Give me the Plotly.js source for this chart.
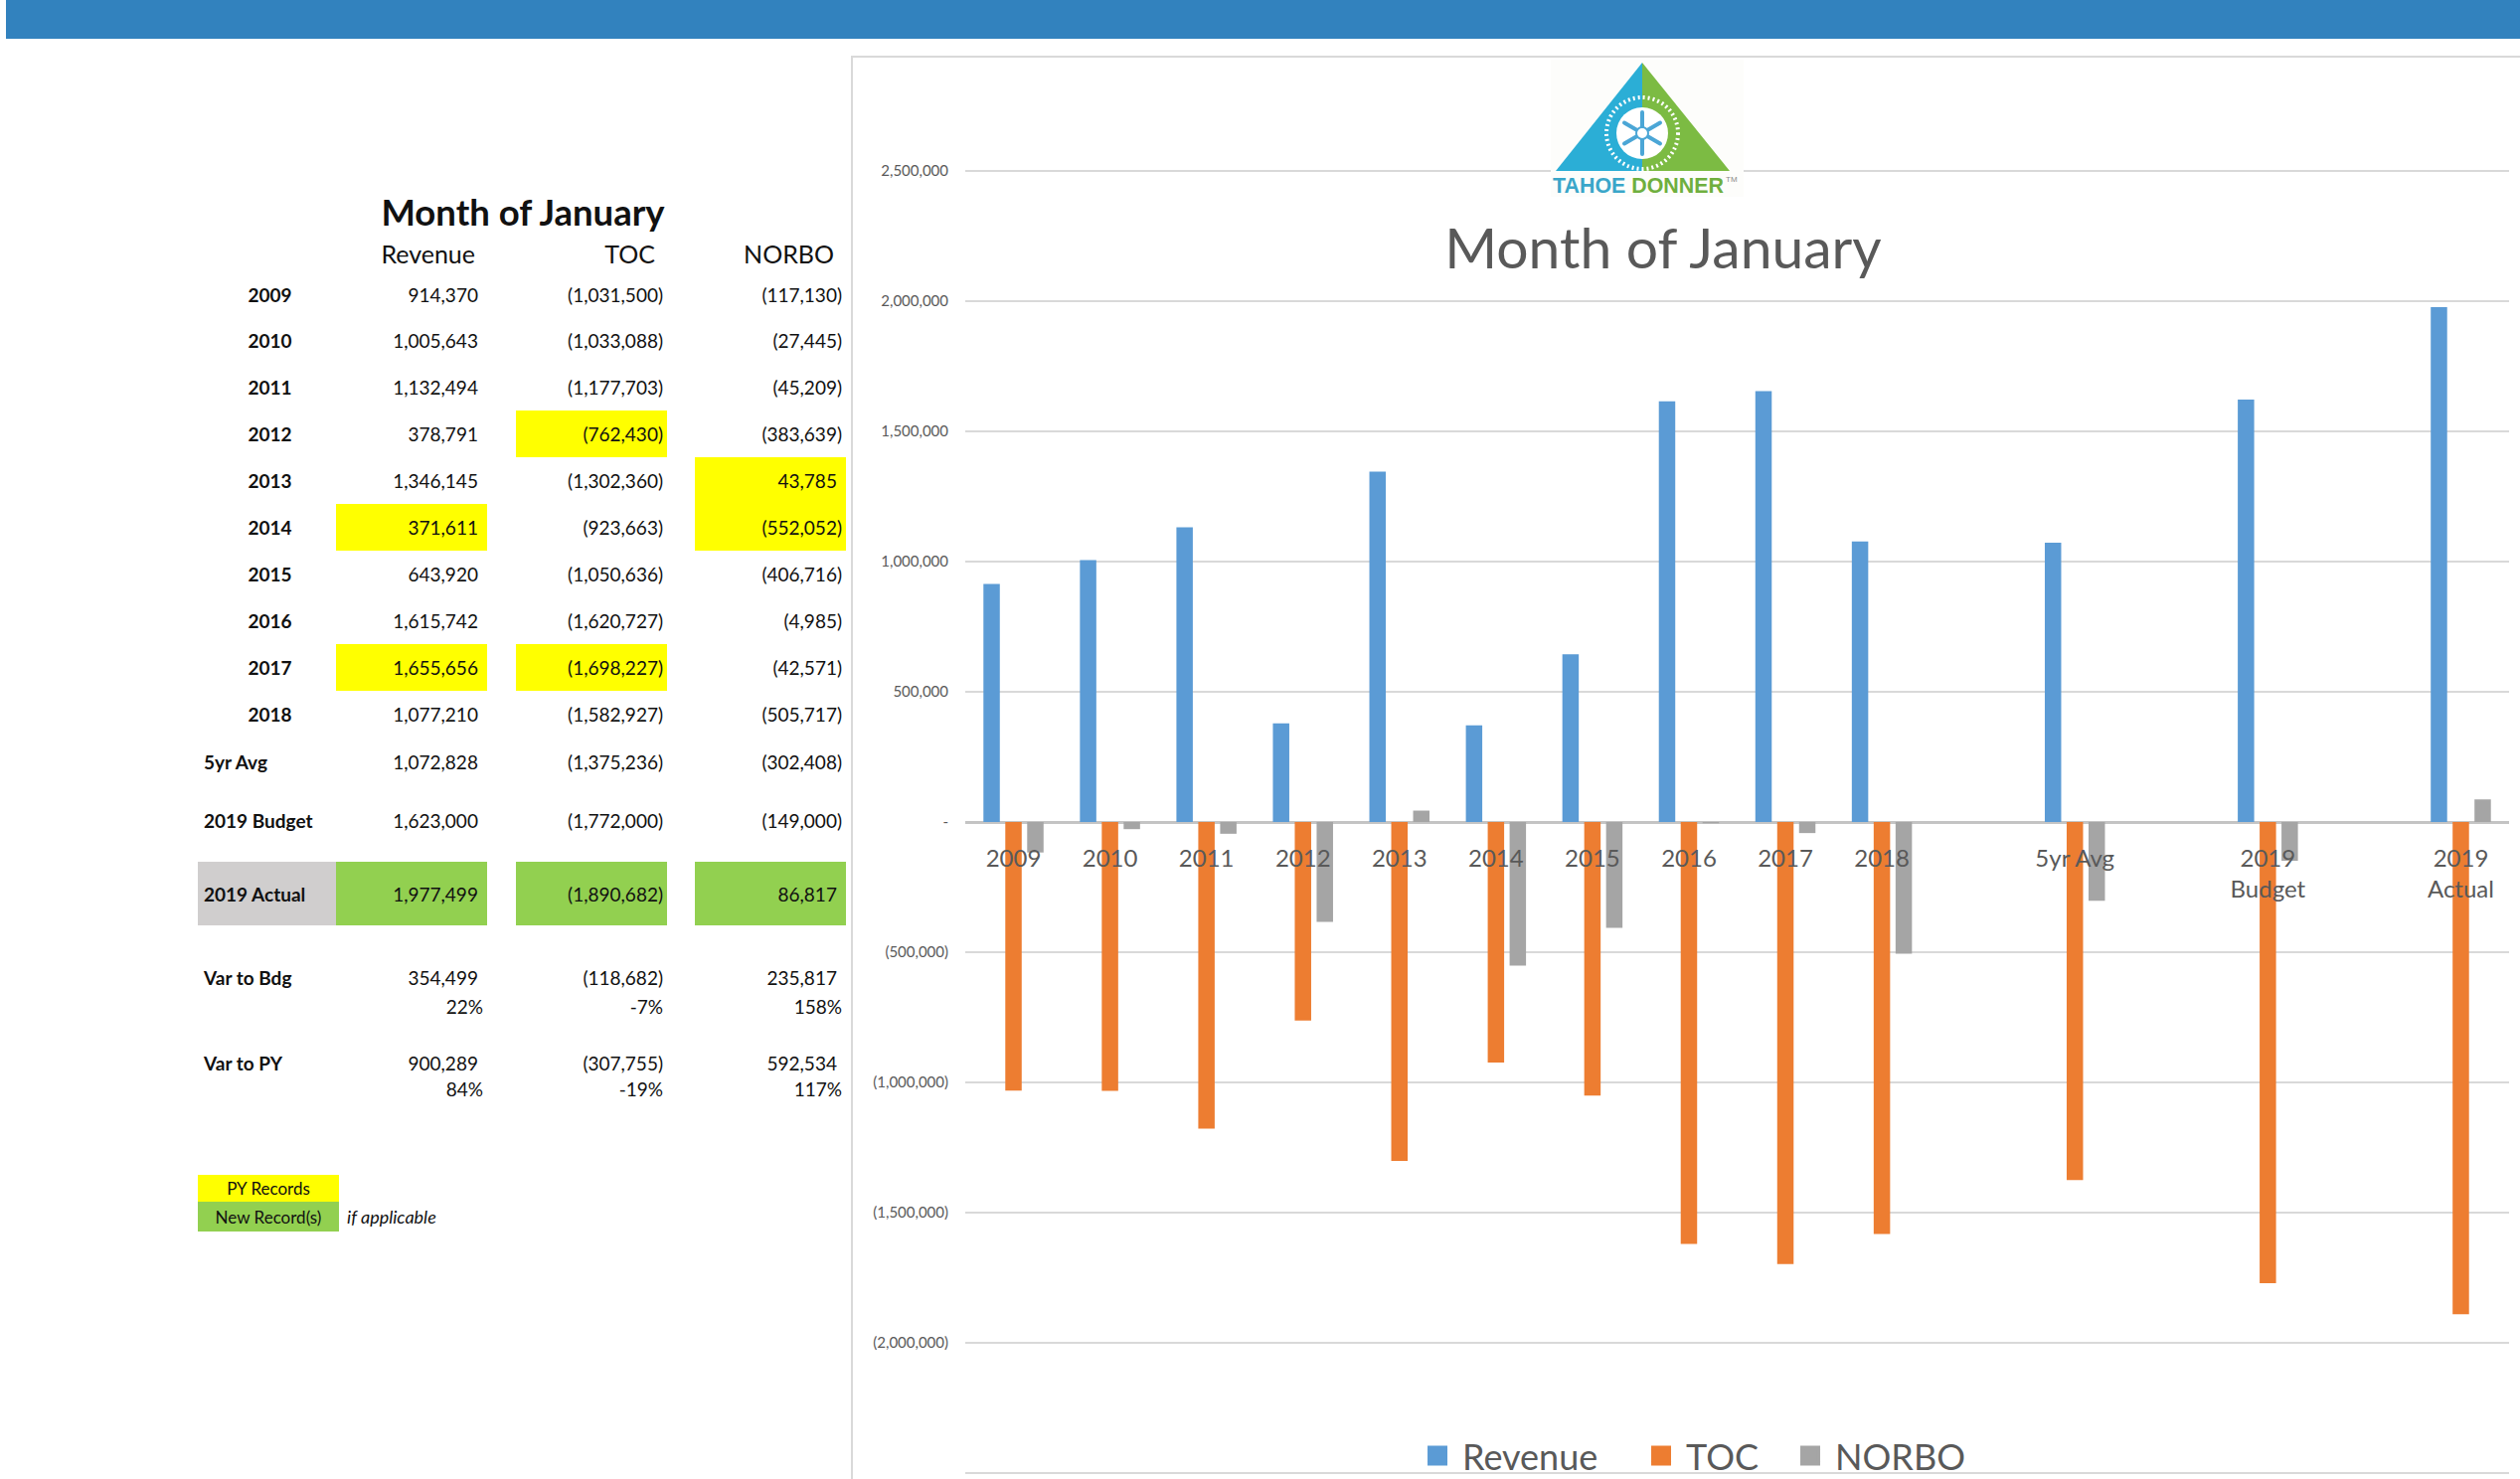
<!DOCTYPE html>
<html>
<head>
<meta charset="utf-8">
<script src="https://cdn.plot.ly/plotly-3.0.1.min.js"></script>
<style>
html,body{margin:0;padding:0;background:#fff;width:2535px;height:1488px;overflow:hidden;font-family:Lato,"Open Sans",sans-serif;}
#chart{position:absolute;left:0;top:0;width:2535px;height:1488px;}
#banner{position:absolute;left:6px;top:0;width:2529px;height:39px;background:#3282BE;}
#panel{position:absolute;left:856px;top:56px;width:1679px;height:1432px;border-left:2px solid #D9D9D9;border-top:2px solid #D9D9D9;box-sizing:border-box;pointer-events:none;}
#table{position:absolute;left:0;top:0;width:856px;height:1488px;}
.c{position:absolute;display:flex;align-items:center;box-sizing:border-box;white-space:nowrap;color:#111;font-family:Lato,"Open Sans",sans-serif;}
#logo{position:absolute;left:0;top:0;pointer-events:none;}
</style>
</head>
<body>
<div id="chart"></div>
<div id="banner"></div>
<div id="panel"></div>
<div id="table"></div>
<svg id="logo" width="2535" height="240" viewBox="0 0 2535 240">
  <rect x="1560" y="60" width="194" height="138" fill="#FDFDFB"/>
  <polygon points="1652,63 1565,172 1652,172" fill="#2BAED6"/>
  <polygon points="1652,63 1652,172 1740,172" fill="#7CBB43"/>
  <circle cx="1652" cy="134" r="36" fill="none" stroke="#ffffff" stroke-width="4" stroke-dasharray="2 3"/>
  <circle cx="1652" cy="134" r="26" fill="#ffffff"/>
  <g stroke="#4BA6D6" stroke-width="4" stroke-linecap="round">
    <line x1="1652" y1="113" x2="1652" y2="155"/>
    <line x1="1634" y1="123.5" x2="1670" y2="144.5"/>
    <line x1="1634" y1="144.5" x2="1670" y2="123.5"/>
  </g>
  <circle cx="1652" cy="134" r="6" fill="#ffffff" stroke="#4BA6D6" stroke-width="2"/>
  <text x="1562" y="194" textLength="172" lengthAdjust="spacingAndGlyphs" font-family="Liberation Sans, DejaVu Sans, sans-serif" font-weight="bold" font-size="22"><tspan fill="#3AA6C9">TAHOE </tspan><tspan fill="#6FAF3E">DONNER</tspan></text>
  <text x="1736" y="183" font-family="Liberation Sans, sans-serif" font-size="8" fill="#8a8a8a">TM</text>
</svg>
<script>
// ---------------- data ----------------
const years = ['2009','2010','2011','2012','2013','2014','2015','2016','2017','2018'];
const rowLabels = years.concat(['5yr Avg','2019 Budget','2019 Actual']);
const chartLabels = years.concat(['5yr Avg','2019<br>Budget','2019<br>Actual']);
const axisSlots = years.concat([' ','5yr Avg','  ','2019<br>Budget','   ','2019<br>Actual']);
const seriesNames = ['Revenue','TOC','NORBO'];
const seriesColors = ['#5B9BD5','#ED7D31','#A5A5A5'];
const revenue = [914370,1005643,1132494,378791,1346145,371611,643920,1615742,1655656,1077210,1072828,1623000,1977499];
const toc = [-1031500,-1033088,-1177703,-762430,-1302360,-923663,-1050636,-1620727,-1698227,-1582927,-1375236,-1772000,-1890682];
const norbo = [-117130,-27445,-45209,-383639,43785,-552052,-406716,-4985,-42571,-505717,-302408,-149000,86817];
const varToBdg = [354499,-118682,235817];
const varToBdgPct = ['22%','-7%','158%'];
const varToPY = [900289,-307755,592534];
const varToPYPct = ['84%','-19%','117%'];
const pyRecordRevenue = ['2014','2017'];
const pyRecordTOC = ['2012','2017'];
const pyRecordNORBO = ['2013','2014'];
const newRecordRow = '2019 Actual';
const yTickVals = [-2500000,-2000000,-1500000,-1000000,-500000,0,500000,1000000,1500000,2000000,2500000];
const tableTitle = 'Month of January';
const chartTitle = 'Month of January';

// ---------------- helpers ----------------
function acct(v){
  const s = Math.abs(v).toLocaleString('en-US');
  return v < 0 ? '(' + s + ')' : s + '<span style="visibility:hidden">)</span>';
}
function tickFmt(v){
  if (v === 0) return '-';
  const s = Math.abs(v).toLocaleString('en-US');
  return v < 0 ? '(' + s + ')' : s;
}

// ---------------- table ----------------
const T = document.getElementById('table');
function cell(x0, x1, yc, h, html, o){
  o = o || {};
  const d = document.createElement('div');
  d.className = 'c';
  d.style.left = x0 + 'px';
  d.style.width = (x1 - x0) + 'px';
  d.style.top = (yc - h / 2) + 'px';
  d.style.height = h + 'px';
  d.style.justifyContent = o.align === 'right' ? 'flex-end' : (o.align === 'center' ? 'center' : 'flex-start');
  if (o.bg) d.style.background = o.bg;
  if (o.pr != null) d.style.paddingRight = o.pr + 'px';
  if (o.pl != null) d.style.paddingLeft = o.pl + 'px';
  d.style.fontSize = (o.size || 19) + 'px';
  d.style.fontWeight = o.bold ? '700' : '400';
  if (o.italic) d.style.fontStyle = 'italic';
  d.innerHTML = html;
  T.appendChild(d);
}
const labX = [199, 338];
const colX = [[338, 490], [519, 671], [699, 851]];
const YELLOW = '#FFFF00', GREEN = '#92D050', GRAY = '#D0CECE';

cell(300, 752, 213, 46, tableTitle, {align:'center', size:36.5, bold:true});
seriesNames.forEach((n, j) => cell(colX[j][0] - 60, colX[j][1], 255, 34, n, {align:'right', pr:12, size:25}));

const rowY = rowLabels.map((l, i) => i < years.length ? 296 + i * 46.9 : [766, 825, 899][i - years.length]);
const pyLists = [pyRecordRevenue, pyRecordTOC, pyRecordNORBO];
const seriesVals = [revenue, toc, norbo];
rowLabels.forEach((lab, i) => {
  const y = rowY[i];
  const isActual = lab === newRecordRow;
  const h = isActual ? 64 : 47;
  if (i < years.length) cell(labX[0], labX[1], y, h, lab, {align:'center', bold:true, size:19, pl:6});
  else cell(labX[0], labX[1], y, h, lab, {align:'left', bold:true, size:19, pl:6, bg: isActual ? GRAY : null});
  seriesVals.forEach((vals, j) => {
    let bg = null;
    if (pyLists[j].indexOf(lab) >= 0) bg = YELLOW;
    if (isActual) bg = GREEN;
    cell(colX[j][0], colX[j][1], y, h, acct(vals[i]), {align:'right', pr:4, size:19, bg});
  });
});
// variance rows
cell(labX[0], labX[1], 983, 30, 'Var to Bdg', {align:'left', bold:true, size:19, pl:6});
cell(labX[0], labX[1], 1069, 30, 'Var to PY', {align:'left', bold:true, size:19, pl:6});
colX.forEach((c, j) => {
  cell(c[0], c[1], 983, 30, acct(varToBdg[j]), {align:'right', pr:4, size:19});
  cell(c[0], c[1], 1012, 28, varToBdgPct[j], {align:'right', pr:4, size:19});
  cell(c[0], c[1], 1069, 30, acct(varToPY[j]), {align:'right', pr:4, size:19});
  cell(c[0], c[1], 1095, 28, varToPYPct[j], {align:'right', pr:4, size:19});
});
// key
cell(199, 341, 1195.5, 27, 'PY Records', {align:'center', size:17, bg:YELLOW});
cell(199, 341, 1224, 30, 'New Record(s)', {align:'center', size:17, bg:GREEN});
cell(349, 520, 1224, 30, 'if applicable', {align:'left', size:18, italic:true});

// ---------------- chart ----------------
const barSeries = [revenue, toc, norbo];
const legendWidths = [170, 95, 140];
const traces = barSeries.map((vals, i) => ({
  type:'bar', x:chartLabels, y:vals, name:seriesNames[i],
  marker:{color:seriesColors[i]}, showlegend:false, hoverinfo:'skip'
}));
seriesNames.forEach((n, i) => traces.push({
  type:'scatter', mode:'markers', x:[null], y:[null], name:n,
  marker:{symbol:'square', size:16, color:seriesColors[i], line:{color:seriesColors[i], width:4}},
  legendwidth:legendWidths[i], showlegend:true, hoverinfo:'skip'
}));

const yPad = 20000; // keeps the +/-2,500,000 gridlines inside the plot area
const layout = {
  width:2535, height:1488,
  margin:{l:971, r:11, t:166.76, b:0.76, pad:0, autoexpand:false},
  paper_bgcolor:'rgba(0,0,0,0)', plot_bgcolor:'rgba(0,0,0,0)',
  barmode:'group', bargap:0.32, bargroupgap:0.25,
  font:{family:'Lato, "Open Sans", sans-serif', color:'#595959'},
  title:{text:chartTitle, font:{size:57, color:'#595959', family:'Lato, sans-serif'},
         xref:'paper', x:0.452, xanchor:'center', yref:'container', y:1 - 250/1488, yanchor:'middle'},
  xaxis:{type:'category', categoryorder:'array', categoryarray:axisSlots, range:[-0.5, 15.5],
         anchor:'free', position:0.5, showgrid:false, showline:false, zeroline:false, ticks:'',
         tickfont:{size:24, color:'#595959'}, ticklabelstandoff:20, fixedrange:true},
  yaxis:{range:[-2500000 - yPad, 2500000 + yPad], tickmode:'array', tickvals:yTickVals, ticktext:yTickVals.map(tickFmt),
         showgrid:true, gridcolor:'#D9D9D9', gridwidth:2, zeroline:true, zerolinecolor:'#C4C4C4', zerolinewidth:3,
         tickfont:{size:15, color:'#595959'}, ticks:'', ticklabelstandoff:16, showline:false, fixedrange:true},
  legend:{orientation:'h', x:0.4733, xanchor:'center', y:0.017, yanchor:'middle', itemwidth:40,
          font:{size:36, color:'#595959'}, bgcolor:'rgba(0,0,0,0)', itemclick:false, itemdoubleclick:false},
  showlegend:true
};
Plotly.newPlot('chart', traces, layout, {displayModeBar:false, staticPlot:true});
</script>
</body>
</html>
